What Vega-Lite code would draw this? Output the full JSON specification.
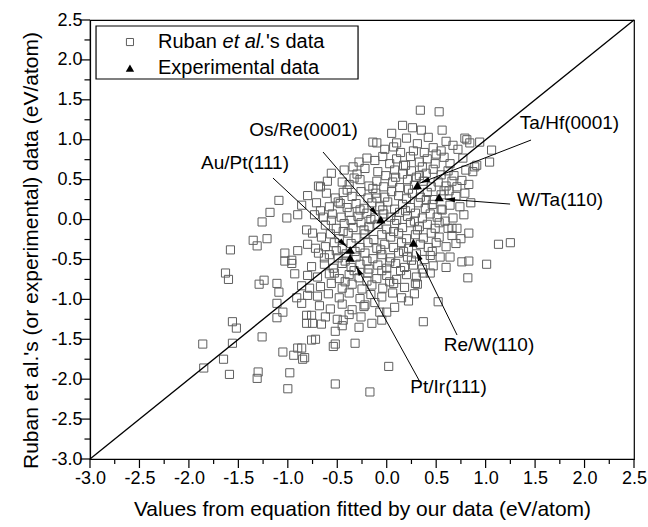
{
  "$schema": "https://vega.github.io/schema/vega-lite/v6.json",
  "width": 544,
  "height": 439,
  "autosize": {"type": "none"},
  "padding": {"left": 90, "top": 20, "right": 14, "bottom": 68},
  "background": "white",
  "config": {
    "view": {"stroke": "black", "strokeWidth": 1.2},
    "font": "Liberation Sans",
    "axis": {"grid": false, "ticks": false, "tickSize": 0, "domainColor": "black", "domainWidth": 1.2, "labelColor": "black", "titleColor": "black", "labelFont": "Liberation Sans", "titleFont": "Liberation Sans", "labelFontSize": 18, "titleFontSize": 21, "titleFontWeight": "normal", "labelOverlap": false, "labelFlush": false, "labelBound": false, "zindex": 1}
  },
  "datasets": {
    "ruban": [
      {"x":-1.86,"y":-1.56},{"x":-1.85,"y":-1.86},{"x":-1.65,"y":-1.75},{"x":-1.59,"y":-1.94},{"x":-1.63,"y":-0.67},{"x":-1.60,"y":-0.75},{"x":-1.56,"y":-1.28},{"x":-1.52,"y":-1.36},{"x":-1.56,"y":-1.55},{"x":-1.26,"y":-1.47},{"x":-1.29,"y":-0.81},{"x":-1.24,"y":-0.76},{"x":-1.31,"y":-1.99},{"x":-1.30,"y":-1.91},{"x":-1.11,"y":-0.80},{"x":-1.09,"y":-0.91},{"x":-1.11,"y":-1.05},{"x":-1.11,"y":-1.23},{"x":-1.05,"y":-1.16},{"x":-1.05,"y":-1.66},{"x":-0.98,"y":-1.92},{"x":-1.00,"y":-2.12},{"x":-0.93,"y":-0.68},{"x":-0.94,"y":-1.70},{"x":-0.90,"y":-1.61},{"x":-0.86,"y":-1.61},{"x":-0.85,"y":-1.75},{"x":-0.83,"y":-1.73},{"x":-0.91,"y":-0.98},{"x":-0.81,"y":-1.30},{"x":-0.81,"y":-1.20},{"x":-0.80,"y":-0.95},{"x":-0.78,"y":-0.86},{"x":-0.80,"y":-0.70},{"x":-0.76,"y":-1.51},{"x":-0.72,"y":-1.50},{"x":-0.75,"y":-1.30},{"x":-0.76,"y":-1.20},
      {"x":-1.58,"y":-0.38},{"x":-1.31,"y":-0.33},{"x":-1.35,"y":-0.26},{"x":-1.21,"y":-0.24},{"x":-1.26,"y":-0.03},{"x":-1.18,"y":0.09},{"x":-1.09,"y":0.24},{"x":-1.03,"y":-0.42},{"x":-0.96,"y":-0.51},{"x":-1.01,"y":0.02},{"x":-0.90,"y":0.06},{"x":-0.81,"y":-0.13},{"x":-0.75,"y":-0.17},{"x":-0.72,"y":-0.36},{"x":-0.67,"y":0.41},{"x":-0.69,"y":-0.42},{"x":-0.64,"y":0.03},{"x":-0.67,"y":0.11},{"x":-0.90,"y":-0.39},{"x":-1.03,"y":-0.52},{"x":-0.96,"y":-0.55},{"x":-0.86,"y":-1.05},
      {"x":0.34,"y":1.37},{"x":0.53,"y":1.35},{"x":0.16,"y":1.18},{"x":0.26,"y":1.15},{"x":0.35,"y":1.12},{"x":0.56,"y":1.12},{"x":0.05,"y":1.08},{"x":0.10,"y":0.96},{"x":-0.14,"y":0.97},{"x":-0.10,"y":0.96},{"x":-0.20,"y":0.77},{"x":-0.34,"y":0.66},{"x":-0.69,"y":0.42},{"x":-0.45,"y":0.47},
      {"x":1.06,"y":0.87},{"x":1.04,"y":0.72},{"x":0.91,"y":0.68},{"x":0.81,"y":1.00},{"x":0.77,"y":0.77},{"x":0.67,"y":0.93},{"x":0.79,"y":1.02},{"x":0.84,"y":0.96},{"x":0.94,"y":0.97},{"x":0.89,"y":0.66},{"x":0.87,"y":0.60},{"x":0.76,"y":0.49},{"x":0.71,"y":0.41},{"x":0.74,"y":0.16},{"x":0.67,"y":0.02},{"x":0.59,"y":-0.02},{"x":0.62,"y":-0.11},{"x":0.66,"y":-0.11},{"x":0.71,"y":-0.11},{"x":0.83,"y":-0.17},{"x":1.13,"y":-0.31},{"x":1.25,"y":-0.29},{"x":0.76,"y":-0.53},{"x":0.83,"y":-0.52},{"x":1.01,"y":-0.56},{"x":0.82,"y":-0.73},{"x":0.52,"y":-1.03},{"x":0.37,"y":-1.28},{"x":0.64,"y":-0.47},{"x":0.54,"y":-0.47},{"x":0.44,"y":-0.45},{"x":0.29,"y":-0.80},{"x":0.37,"y":-0.67},{"x":0.44,"y":-0.67},
      {"x":0.15,"y":-0.98},{"x":-0.07,"y":-1.16},{"x":0.00,"y":-1.16},{"x":-0.05,"y":-1.26},{"x":-0.28,"y":-1.35},{"x":-0.32,"y":-1.55},{"x":-0.52,"y":-1.40},{"x":-0.54,"y":-1.59},{"x":-0.52,"y":-1.56},{"x":0.02,"y":-1.84},{"x":-0.52,"y":-2.06},{"x":-0.17,"y":-2.16},{"x":0.31,"y":-0.81},{"x":-0.22,"y":-1.07},{"x":-0.44,"y":-1.26},
      {"x":-0.02,"y":0.88},{"x":0.07,"y":0.91},{"x":0.20,"y":1.02},{"x":0.31,"y":0.95},{"x":0.42,"y":1.03},{"x":0.47,"y":0.90},{"x":0.60,"y":0.98},{"x":0.27,"y":0.86},{"x":0.14,"y":0.84},{"x":0.38,"y":0.84},{"x":0.55,"y":0.86},{"x":0.72,"y":0.88},
      {"x":-0.28,"y":0.72},{"x":-0.12,"y":0.74},{"x":-0.04,"y":0.79},{"x":0.03,"y":0.70},{"x":0.10,"y":0.76},{"x":0.19,"y":0.68},{"x":0.24,"y":0.79},{"x":0.33,"y":0.72},{"x":0.41,"y":0.76},{"x":0.49,"y":0.70},{"x":0.58,"y":0.78},{"x":0.64,"y":0.70},{"x":0.50,"y":0.82},{"x":0.36,"y":0.66},
      {"x":-0.56,"y":0.58},{"x":-0.43,"y":0.62},{"x":-0.30,"y":0.57},{"x":-0.22,"y":0.64},{"x":-0.09,"y":0.60},{"x":-0.01,"y":0.55},{"x":0.08,"y":0.62},{"x":0.16,"y":0.57},{"x":0.25,"y":0.61},{"x":0.30,"y":0.53},{"x":0.40,"y":0.58},{"x":0.47,"y":0.63},{"x":0.55,"y":0.56},{"x":0.62,"y":0.61},{"x":0.68,"y":0.55},{"x":0.80,"y":0.62},
      {"x":-0.60,"y":0.48},{"x":-0.38,"y":0.44},{"x":-0.27,"y":0.50},{"x":-0.18,"y":0.42},{"x":-0.10,"y":0.48},{"x":-0.03,"y":0.41},{"x":0.06,"y":0.47},{"x":0.13,"y":0.40},{"x":0.21,"y":0.50},{"x":0.28,"y":0.43},{"x":0.37,"y":0.48},{"x":0.45,"y":0.41},{"x":0.52,"y":0.47},{"x":0.60,"y":0.42},{"x":0.66,"y":0.48},{"x":0.83,"y":0.44},{"x":0.22,"y":0.38},
      {"x":-0.80,"y":0.30},{"x":-0.61,"y":0.33},{"x":-0.52,"y":0.27},{"x":-0.44,"y":0.34},{"x":-0.35,"y":0.29},{"x":-0.26,"y":0.35},{"x":-0.19,"y":0.27},{"x":-0.11,"y":0.33},{"x":-0.02,"y":0.28},{"x":0.05,"y":0.35},{"x":0.12,"y":0.30},{"x":0.20,"y":0.26},{"x":0.26,"y":0.33},{"x":0.34,"y":0.28},{"x":0.41,"y":0.34},{"x":0.47,"y":0.25},{"x":0.55,"y":0.31},{"x":0.63,"y":0.36},{"x":0.70,"y":0.29},{"x":0.79,"y":0.33},
      {"x":-0.86,"y":0.18},{"x":-0.71,"y":0.21},{"x":-0.58,"y":0.16},{"x":-0.49,"y":0.22},{"x":-0.40,"y":0.15},{"x":-0.31,"y":0.20},{"x":-0.23,"y":0.14},{"x":-0.15,"y":0.21},{"x":-0.07,"y":0.16},{"x":0.01,"y":0.22},{"x":0.08,"y":0.13},{"x":0.16,"y":0.19},{"x":0.24,"y":0.15},{"x":0.32,"y":0.21},{"x":0.39,"y":0.14},{"x":0.46,"y":0.19},{"x":0.55,"y":0.13},{"x":0.64,"y":0.18},{"x":0.85,"y":0.21},
      {"x":-0.55,"y":0.07},{"x":-0.46,"y":0.03},{"x":-0.38,"y":0.09},{"x":-0.29,"y":0.04},{"x":-0.20,"y":0.08},{"x":-0.12,"y":0.02},{"x":-0.03,"y":0.07},{"x":0.04,"y":0.03},{"x":0.13,"y":0.09},{"x":0.21,"y":0.04},{"x":0.29,"y":0.08},{"x":0.36,"y":0.02},{"x":0.44,"y":0.07},{"x":0.51,"y":0.03},{"x":0.78,"y":0.06},{"x":-0.73,"y":0.06},
      {"x":-0.62,"y":-0.07},{"x":-0.51,"y":-0.11},{"x":-0.43,"y":-0.05},{"x":-0.34,"y":-0.10},{"x":-0.26,"y":-0.04},{"x":-0.18,"y":-0.09},{"x":-0.09,"y":-0.06},{"x":0.00,"y":-0.12},{"x":0.08,"y":-0.05},{"x":0.16,"y":-0.10},{"x":0.24,"y":-0.04},{"x":0.33,"y":-0.09},{"x":0.41,"y":-0.06},{"x":0.49,"y":-0.11},{"x":0.53,"y":-0.04},
      {"x":-0.66,"y":-0.22},{"x":-0.57,"y":-0.18},{"x":-0.48,"y":-0.24},{"x":-0.39,"y":-0.17},{"x":-0.31,"y":-0.23},{"x":-0.22,"y":-0.18},{"x":-0.13,"y":-0.25},{"x":-0.05,"y":-0.19},{"x":0.04,"y":-0.22},{"x":0.12,"y":-0.17},{"x":0.20,"y":-0.24},{"x":0.29,"y":-0.19},{"x":0.37,"y":-0.23},{"x":0.45,"y":-0.17},{"x":0.53,"y":-0.22},{"x":0.66,"y":-0.20},{"x":0.75,"y":-0.24},
      {"x":-0.80,"y":-0.31},{"x":-0.62,"y":-0.34},{"x":-0.53,"y":-0.29},{"x":-0.45,"y":-0.36},{"x":-0.36,"y":-0.30},{"x":-0.27,"y":-0.35},{"x":-0.19,"y":-0.29},{"x":-0.10,"y":-0.36},{"x":-0.02,"y":-0.31},{"x":0.07,"y":-0.35},{"x":0.15,"y":-0.29},{"x":0.22,"y":-0.36},{"x":0.34,"y":-0.31},{"x":0.42,"y":-0.35},{"x":0.50,"y":-0.29},{"x":0.60,"y":-0.34},{"x":0.70,"y":-0.30},
      {"x":-0.58,"y":-0.44},{"x":-0.49,"y":-0.48},{"x":-0.41,"y":-0.43},{"x":-0.31,"y":-0.47},{"x":-0.22,"y":-0.42},{"x":-0.14,"y":-0.49},{"x":-0.05,"y":-0.44},{"x":0.04,"y":-0.48},{"x":0.12,"y":-0.42},{"x":0.21,"y":-0.47},{"x":0.30,"y":-0.43},{"x":0.38,"y":-0.50},
      {"x":-0.76,"y":-0.59},{"x":-0.63,"y":-0.56},{"x":-0.54,"y":-0.61},{"x":-0.45,"y":-0.55},{"x":-0.36,"y":-0.60},{"x":-0.27,"y":-0.56},{"x":-0.18,"y":-0.62},{"x":-0.09,"y":-0.57},{"x":0.00,"y":-0.61},{"x":0.09,"y":-0.55},{"x":0.18,"y":-0.60},{"x":0.27,"y":-0.57},{"x":0.36,"y":-0.62},{"x":0.47,"y":-0.58},{"x":0.60,"y":-0.60},
      {"x":-0.70,"y":-0.72},{"x":-0.58,"y":-0.68},{"x":-0.48,"y":-0.74},{"x":-0.38,"y":-0.69},{"x":-0.28,"y":-0.73},{"x":-0.19,"y":-0.67},{"x":-0.10,"y":-0.74},{"x":0.00,"y":-0.70},{"x":0.10,"y":-0.75},{"x":0.20,"y":-0.69},{"x":0.30,"y":-0.72},
      {"x":-0.67,"y":-0.84},{"x":-0.56,"y":-0.80},{"x":-0.45,"y":-0.86},{"x":-0.35,"y":-0.81},{"x":-0.25,"y":-0.87},{"x":-0.15,"y":-0.82},{"x":-0.04,"y":-0.86},{"x":0.07,"y":-0.80},{"x":0.18,"y":-0.85},{"x":-0.86,"y":-0.83},
      {"x":-0.70,"y":-0.96},{"x":-0.59,"y":-0.93},{"x":-0.48,"y":-0.98},{"x":-0.38,"y":-0.92},{"x":-0.27,"y":-0.99},{"x":-0.16,"y":-0.94},{"x":-0.05,"y":-0.97},{"x":0.06,"y":-0.92},
      {"x":-0.68,"y":-1.08},{"x":-0.57,"y":-1.12},{"x":-0.45,"y":-1.06},{"x":-0.35,"y":-1.13},{"x":-0.23,"y":-1.09},{"x":-0.12,"y":-1.04},{"x":-0.62,"y":-1.22},{"x":-0.50,"y":-1.25},{"x":-0.38,"y":-1.19},{"x":-0.26,"y":-1.22},
      {"x":-0.66,"y":-1.31},{"x":-0.45,"y":-1.33},{"x":-0.15,"y":-1.30},{"x":0.08,"y":-1.10},{"x":0.22,"y":-1.02},{"x":0.28,"y":-0.93},
      {"x":-0.40,"y":0.37},{"x":-0.14,"y":0.39},{"x":0.09,"y":0.53},{"x":0.33,"y":0.55},{"x":0.17,"y":0.68},{"x":-0.33,"y":0.52},{"x":-0.47,"y":0.20},{"x":-0.27,"y":0.12},{"x":-0.04,"y":0.12},{"x":0.19,"y":0.11},{"x":0.40,"y":0.25},{"x":-0.56,"y":-0.01},{"x":-0.36,"y":-0.01},{"x":-0.16,"y":0.00},{"x":0.10,"y":-0.01},{"x":0.28,"y":-0.02},{"x":-0.44,"y":-0.15},{"x":-0.23,"y":-0.13},{"x":0.07,"y":-0.15},{"x":0.31,"y":-0.13},{"x":-0.51,"y":-0.39},{"x":-0.32,"y":-0.40},{"x":-0.06,"y":-0.38},{"x":0.17,"y":-0.40},{"x":0.46,"y":-0.40},{"x":-0.42,"y":-0.52},{"x":-0.20,"y":-0.52},{"x":0.03,"y":-0.53},{"x":0.25,"y":-0.51},{"x":-0.63,"y":-0.48},{"x":-0.53,"y":-0.67},{"x":-0.33,"y":-0.64},{"x":-0.05,"y":-0.64},{"x":0.14,"y":-0.64},{"x":-0.42,"y":-0.78},{"x":-0.20,"y":-0.77},{"x":0.03,"y":-0.78},{"x":0.56,"y":0.12},{"x":0.58,"y":0.36},{"x":-0.10,"y":0.27}
    ],
    "exp": [
      {"x":0.31,"y":0.43},{"x":0.53,"y":0.28},{"x":-0.06,"y":0.0},{"x":0.27,"y":-0.29},{"x":-0.37,"y":-0.38},{"x":-0.37,"y":-0.48}
    ],
    "notes": [
      {"label":"Os/Re(0001)","tx":-0.841,"ty":1.12,"sx":-0.644,"sy":0.846,"ex":-0.088,"ey":0.044},
      {"label":"Au/Pt(111)","tx":-1.433,"ty":0.708,"sx":-1.150,"sy":0.520,"ex":-0.401,"ey":-0.345},
      {"label":"Ta/Hf(0001)","tx":1.848,"ty":1.21,"sx":1.459,"sy":0.996,"ex":0.337,"ey":0.457},
      {"label":"W/Ta(110)","tx":1.752,"ty":0.244,"sx":1.247,"sy":0.194,"ex":0.589,"ey":0.257},
      {"label":"Re/W(110)","tx":1.034,"ty":-1.573,"sx":0.711,"sy":-1.447,"ex":0.296,"ey":-0.395},
      {"label":"Pt/Ir(111)","tx":0.625,"ty":-2.10,"sx":0.337,"sy":-2.036,"ex":-0.310,"ey":-0.583}
    ],
    "major": [
      {"v":-3},{"v":-2.5},{"v":-2},{"v":-1.5},{"v":-1},{"v":-0.5},{"v":0},{"v":0.5},{"v":1},{"v":1.5},{"v":2},{"v":2.5}
    ],
    "minor": [
      {"v":-2.75},{"v":-2.25},{"v":-1.75},{"v":-1.25},{"v":-0.75},{"v":-0.25},{"v":0.25},{"v":0.75},{"v":1.25},{"v":1.75},{"v":2.25}
    ]
  },
  "layer": [
    {
      "data": {"name": "ruban"},
      "mark": {"type": "point", "shape": "square", "filled": false, "size": 66, "color": "#5f5f5f", "strokeWidth": 1, "opacity": 1},
      "encoding": {
        "x": {"field": "x", "type": "quantitative", "scale": {"domain": [-3, 2.5], "nice": false, "zero": false},
          "axis": {"values": [-3,-2.5,-2,-1.5,-1,-0.5,0,0.5,1,1.5,2,2.5], "tickCount": 20, "format": ".1f",
            "labelExpr": "replace(datum.label, '\u2212', '-')",
            "labelOverlap": false, "labelFlush": false, "labelPadding": 10,
            "title": "Values from equation fitted by our data (eV/atom)", "titlePadding": 11}},
        "y": {"field": "y", "type": "quantitative", "scale": {"domain": [-3, 2.5], "nice": false, "zero": false},
          "axis": {"values": [-3,-2.5,-2,-1.5,-1,-0.5,0,0.5,1,1.5,2,2.5], "tickCount": 20, "format": ".1f",
            "labelExpr": "replace(datum.label, '\u2212', '-')",
            "labelOverlap": false, "labelFlush": false, "labelPadding": 8,
            "title": "Ruban et al.'s (or experimental) data (eV/atom)", "titlePadding": 9, "titleY": 230}}
      }
    },
    {
      "data": {"name": "major"},
      "mark": {"type": "rule", "color": "black", "strokeWidth": 1.2, "clip": false},
      "encoding": {
        "x": {"field": "v", "type": "quantitative"},
        "y": {"datum": -3, "type": "quantitative"},
        "y2": {"datum": -3.113}
      }
    },
    {
      "data": {"name": "major"},
      "mark": {"type": "rule", "color": "black", "strokeWidth": 1.2, "clip": false},
      "encoding": {
        "y": {"field": "v", "type": "quantitative"},
        "x": {"datum": -3, "type": "quantitative"},
        "x2": {"datum": -3.096}
      }
    },
    {
      "data": {"name": "minor"},
      "mark": {"type": "rule", "color": "black", "strokeWidth": 1.2, "clip": false},
      "encoding": {
        "x": {"field": "v", "type": "quantitative"},
        "y": {"datum": -3, "type": "quantitative"},
        "y2": {"datum": -3.063}
      }
    },
    {
      "data": {"name": "minor"},
      "mark": {"type": "rule", "color": "black", "strokeWidth": 1.2, "clip": false},
      "encoding": {
        "y": {"field": "v", "type": "quantitative"},
        "x": {"datum": -3, "type": "quantitative"},
        "x2": {"datum": -3.056}
      }
    },
    {
      "data": {"values": [{}]},
      "mark": {"type": "rule", "color": "black", "strokeWidth": 1.3},
      "encoding": {
        "x": {"datum": -3, "type": "quantitative"},
        "y": {"datum": -3, "type": "quantitative"},
        "x2": {"datum": 2.5},
        "y2": {"datum": 2.5}
      }
    },
    {
      "data": {"name": "notes"},
      "mark": {"type": "rule", "color": "black", "strokeWidth": 1},
      "encoding": {
        "x": {"field": "sx", "type": "quantitative"},
        "y": {"field": "sy", "type": "quantitative"},
        "x2": {"field": "ex"},
        "y2": {"field": "ey"}
      }
    },
    {
      "data": {"name": "notes"},
      "transform": [{"calculate": "atan2((datum.ex - datum.sx) * 98.9, (datum.ey - datum.sy) * 79.8) * 180 / PI", "as": "ang"}],
      "mark": {"type": "point", "shape": "M0,0L1,4L-1,4Z", "filled": true, "size": 25, "color": "black", "opacity": 1, "strokeWidth": 0},
      "encoding": {
        "x": {"field": "ex", "type": "quantitative"},
        "y": {"field": "ey", "type": "quantitative"},
        "angle": {"field": "ang", "type": "quantitative", "scale": null}
      }
    },
    {
      "data": {"name": "exp"},
      "mark": {"type": "point", "shape": "triangle-up", "filled": true, "size": 85, "color": "black", "opacity": 1},
      "encoding": {
        "x": {"field": "x", "type": "quantitative"},
        "y": {"field": "y", "type": "quantitative"}
      }
    },
    {
      "data": {"name": "notes"},
      "mark": {"type": "text", "font": "Liberation Sans", "fontSize": 19, "color": "black", "align": "center", "baseline": "middle"},
      "encoding": {
        "x": {"field": "tx", "type": "quantitative"},
        "y": {"field": "ty", "type": "quantitative"},
        "text": {"field": "label"}
      }
    },
    {
      "data": {"values": [{}]},
      "mark": {"type": "rect", "fill": "white", "stroke": "black", "strokeWidth": 1.2},
      "encoding": {
        "x": {"datum": -2.939, "type": "quantitative"},
        "x2": {"datum": -0.290},
        "y": {"datum": 2.425, "type": "quantitative"},
        "y2": {"datum": 1.761}
      }
    },
    {
      "data": {"values": [{}]},
      "mark": {"type": "point", "shape": "square", "filled": false, "size": 50, "color": "#5f5f5f", "strokeWidth": 1, "opacity": 1},
      "encoding": {
        "x": {"datum": -2.596, "type": "quantitative"},
        "y": {"datum": 2.224, "type": "quantitative"}
      }
    },
    {
      "data": {"values": [{}]},
      "mark": {"type": "point", "shape": "triangle-up", "filled": true, "size": 70, "color": "black", "opacity": 1},
      "encoding": {
        "x": {"datum": -2.596, "type": "quantitative"},
        "y": {"datum": 1.898, "type": "quantitative"}
      }
    },
    {
      "data": {"values": [{}]},
      "mark": {"type": "text", "font": "Liberation Sans", "fontSize": 20, "color": "black", "align": "left", "baseline": "middle", "text": "Ruban"},
      "encoding": {
        "x": {"datum": -2.3124, "type": "quantitative"},
        "y": {"datum": 2.224, "type": "quantitative"}
      }
    },
    {
      "data": {"values": [{}]},
      "mark": {"type": "text", "font": "Liberation Sans", "fontSize": 20, "fontStyle": "italic", "color": "black", "align": "left", "baseline": "middle", "text": "et al."},
      "encoding": {
        "x": {"datum": -1.6603, "type": "quantitative"},
        "y": {"datum": 2.224, "type": "quantitative"}
      }
    },
    {
      "data": {"values": [{}]},
      "mark": {"type": "text", "font": "Liberation Sans", "fontSize": 20, "color": "black", "align": "left", "baseline": "middle", "text": "'s data"},
      "encoding": {
        "x": {"datum": -1.2204, "type": "quantitative"},
        "y": {"datum": 2.224, "type": "quantitative"}
      }
    },
    {
      "data": {"values": [{}]},
      "mark": {"type": "text", "font": "Liberation Sans", "fontSize": 20, "color": "black", "align": "left", "baseline": "middle", "text": "Experimental data"},
      "encoding": {
        "x": {"datum": -2.3124, "type": "quantitative"},
        "y": {"datum": 1.898, "type": "quantitative"}
      }
    }
  ]
}
